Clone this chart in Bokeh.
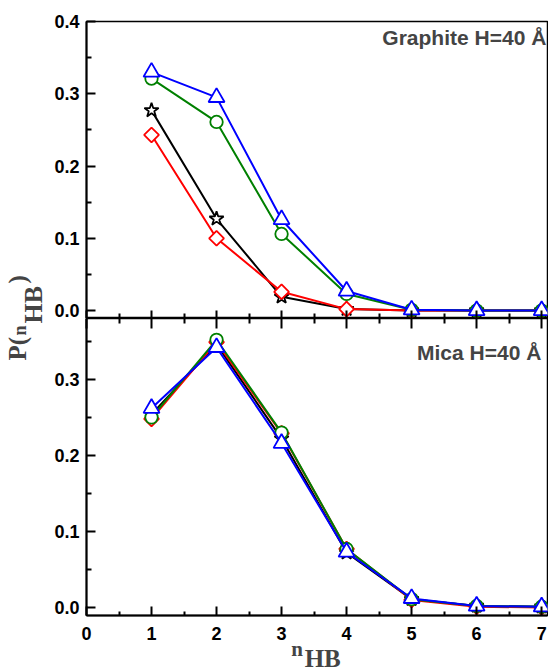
import numpy as np
from bokeh.plotting import figure
from bokeh.models import (Range1d, FixedTicker, LinearAxis, Label,
                          NumeralTickFormatter, CustomLabelingPolicy)
from bokeh.layouts import row, column
from bokeh.embed import file_html
from bokeh.resources import INLINE

# ---------------- data ----------------
n_hb = [1, 2, 3, 4, 5, 6, 7]

graphite_black = [0.277, 0.127, 0.019, 0.002, 0.000, 0.000, 0.000]
graphite_red = [0.243, 0.100, 0.026, 0.002, 0.000, 0.000, 0.000]
graphite_green = [0.321, 0.261, 0.106, 0.023, 0.001, 0.000, 0.000]
graphite_blue = [0.330, 0.295, 0.126, 0.027, 0.001, 0.000, 0.000]

mica_black = [0.254, 0.346, 0.222, 0.072, 0.011, 0.002, 0.001]
mica_red = [0.248, 0.349, 0.229, 0.077, 0.010, 0.001, 0.000]
mica_green = [0.250, 0.352, 0.230, 0.077, 0.011, 0.002, 0.001]
mica_blue = [0.262, 0.342, 0.216, 0.073, 0.012, 0.002, 0.001]

x_ticks = [0, 1, 2, 3, 4, 5, 6, 7]
x_minor = [0.5, 1.5, 2.5, 3.5, 4.5, 5.5, 6.5]
top_yticks = [0.0, 0.1, 0.2, 0.3, 0.4]
top_yminor = [0.05, 0.15, 0.25, 0.35]
bot_yticks = [0.0, 0.1, 0.2, 0.3]
bot_yminor = [0.05, 0.15, 0.25, 0.35]

top_text = "Graphite H=40 Å"
bot_text = "Mica H=40 Å"

SANS = "Liberation Sans"
SERIF = "Liberation Serif"
TICK_FS = "18px"

series_style = [
    ("black", "star", 15, 0),
    ("red", "square", 10.5, np.pi / 4),
    ("green", "circle", 12.5, 0),
    ("blue", "triangle", 16, 0),
]

TOTAL_H = 668
LAB_W = 48
TOP_H = 21 + 297
BOT_H = 297 + 30


def style_yaxis(ax, ticks, minor):
    ax.ticker = FixedTicker(ticks=ticks, minor_ticks=minor)
    ax.formatter = NumeralTickFormatter(format="0.0")
    ax.major_tick_in = 9
    ax.major_tick_out = 0
    ax.minor_tick_in = 5
    ax.minor_tick_out = 0
    ax.major_tick_line_width = 2
    ax.minor_tick_line_width = 2
    ax.axis_line_width = 2
    ax.major_label_text_font = SANS
    ax.major_label_text_font_style = "bold"
    ax.major_label_text_font_size = TICK_FS
    ax.major_label_text_color = "black"
    ax.major_label_standoff = 7


def hidden_label_xaxis(ax, tin, tmin):
    ax.ticker = FixedTicker(ticks=x_ticks, minor_ticks=x_minor)
    ax.major_tick_in = tin
    ax.major_tick_out = 0
    ax.minor_tick_in = tmin
    ax.minor_tick_out = 0
    ax.major_tick_line_width = 2
    ax.minor_tick_line_width = 2
    ax.axis_line_width = 2
    ax.major_label_policy = CustomLabelingPolicy(code="return new Set()")
    ax.major_label_text_font_size = "0px"
    ax.major_label_standoff = 0


def draw(p, ys):
    for (color, marker, size, ang), y in zip(series_style, ys):
        p.line(n_hb, y, line_color=color, line_width=2)
        p.scatter(n_hb, y, marker=marker, size=size, angle=ang,
                  line_color=color, line_width=1.8, fill_color="white")


# ---------------- top panel ----------------
top = figure(frame_width=461, frame_height=297,
             x_range=Range1d(0, 7.09), y_range=Range1d(-0.011, 0.4),
             min_border_left=38, min_border_right=1, min_border_top=21,
             min_border_bottom=0, toolbar_location=None, output_backend="svg")
top.grid.visible = False
top.outline_line_color = "black"
top.outline_line_width = 1.5
style_yaxis(top.yaxis[0], top_yticks, top_yminor)
hidden_label_xaxis(top.xaxis[0], 8, 5)
draw(top, [graphite_black, graphite_red, graphite_green, graphite_blue])
top.add_layout(Label(x=7.072, y=0.378, text=top_text, text_align="right",
                     text_baseline="middle", text_font=SANS,
                     text_font_style="bold", text_font_size="21px"))

# ---------------- bottom panel ----------------
bot = figure(frame_width=461, frame_height=297,
             x_range=top.x_range, y_range=Range1d(-0.0105, 0.38),
             min_border_left=38, min_border_right=1, min_border_top=0,
             min_border_bottom=30, toolbar_location=None, output_backend="svg")
bot.grid.visible = False
bot.outline_line_color = "black"
bot.outline_line_width = 1.5
style_yaxis(bot.yaxis[0], bot_yticks, bot_yminor)
bx = bot.xaxis[0]
bx.ticker = FixedTicker(ticks=x_ticks, minor_ticks=x_minor)
bx.major_tick_in = 9
bx.major_tick_out = 0
bx.minor_tick_in = 4
bx.minor_tick_out = 0
bx.major_tick_line_width = 2
bx.minor_tick_line_width = 2
bx.axis_line_width = 2
bx.major_label_text_font = SANS
bx.major_label_text_font_style = "bold"
bx.major_label_text_font_size = TICK_FS
bx.major_label_text_color = "black"
bx.major_label_standoff = 11
above = LinearAxis()
hidden_label_xaxis(above, 10, 5)
above.axis_line_color = None
bot.add_layout(above, "above")
draw(bot, [mica_black, mica_red, mica_green, mica_blue])
bot.add_layout(Label(x=6.995, y=0.335, text=bot_text, text_align="right",
                     text_baseline="middle", text_font=SANS,
                     text_font_style="bold", text_font_size="21px"))

# ---------------- x-axis title (n_HB) ----------------
XL_H = TOTAL_H - TOP_H - BOT_H
xl = figure(frame_width=461, frame_height=XL_H, x_range=top.x_range,
            y_range=Range1d(0, XL_H), x_axis_type=None, y_axis_type=None,
            min_border_left=38, min_border_right=1, min_border_top=0,
            min_border_bottom=0, toolbar_location=None, output_backend="svg")
xl.grid.visible = False
xl.outline_line_color = None
XL_TOP = TOP_H + BOT_H  # page y of this strip's top edge
xl.add_layout(Label(x=3.15, y=TOTAL_H - 648, text="n", text_align="left",
                    text_baseline="middle", text_font=SERIF,
                    text_font_style="bold", text_font_size="21px"))
xl.add_layout(Label(x=3.355, y=TOTAL_H - 657.5, text="HB", text_align="left",
                    text_baseline="middle", text_font=SERIF,
                    text_font_style="bold", text_font_size="25px"))

# ---------------- y-axis title P(n_HB) ----------------
lab = figure(frame_width=LAB_W, frame_height=TOTAL_H, x_range=Range1d(0, LAB_W),
             y_range=Range1d(0, TOTAL_H), x_axis_type=None, y_axis_type=None,
             min_border=0, toolbar_location=None, output_backend="svg")
lab.grid.visible = False
lab.outline_line_color = None
A = np.pi / 2
for txt, xx, page_y, fs in [("P(", 16.5, 360, "25px"), ("n", 19.6, 335, "18px"),
                            ("HB", 33, 323, "26px"), (")", 16.5, 283, "25px")]:
    lab.add_layout(Label(x=xx, y=TOTAL_H - page_y, text=txt, angle=A,
                         text_align="left", text_baseline="middle",
                         text_font=SERIF, text_font_style="bold",
                         text_font_size=fs))

layout = row(lab, column(top, bot, xl))
open("out.html", "w").write(file_html(layout, INLINE))
